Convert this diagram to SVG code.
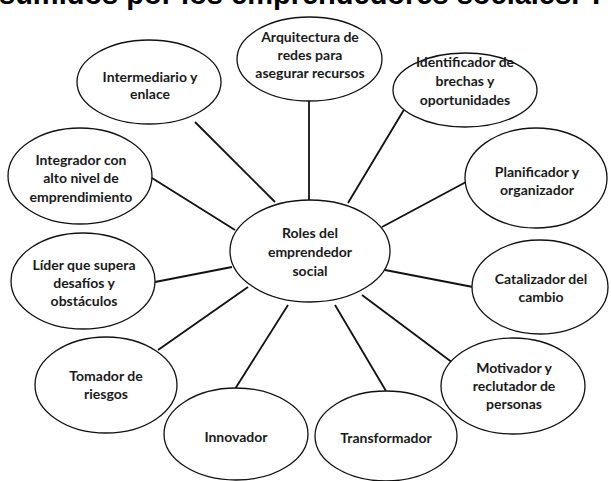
<svg xmlns="http://www.w3.org/2000/svg" width="611" height="481" viewBox="0 0 611 481">
<style>
.node ellipse{fill:#fff;stroke:#111;stroke-width:1.3}
.node text{font-family:Lato,"Open Sans","Liberation Sans",sans-serif;font-weight:700;font-size:14px;text-anchor:middle;fill:#1a1a1a}
#connectors line{stroke:#111;stroke-width:1.8}
.title{font-family:"Liberation Sans",Arial,sans-serif;font-weight:700;font-size:29px;fill:#000}
</style>
<rect width="611" height="481" fill="#fff"/>
<text class="title" x="-1" y="4">sumidos por los emprendedores sociales. T</text>
<g id="connectors">
<line x1="309" y1="100" x2="309" y2="201"/>
<line x1="408" y1="103" x2="348" y2="203"/>
<line x1="466" y1="182" x2="382" y2="227"/>
<line x1="385" y1="270" x2="473" y2="287"/>
<line x1="362" y1="295" x2="453" y2="363"/>
<line x1="335" y1="305" x2="386" y2="391"/>
<line x1="288" y1="305" x2="235" y2="389"/>
<line x1="248" y1="287" x2="158" y2="350"/>
<line x1="155" y1="282" x2="232" y2="267"/>
<line x1="152" y1="178" x2="235" y2="230"/>
<line x1="195" y1="122" x2="275" y2="202"/>
</g>
<g id="center" class="node"><ellipse cx="310" cy="251" rx="80" ry="51"/><text x="310" y="238">Roles del</text><text x="310" y="257">emprendedor</text><text x="310" y="276">social</text></g>
<g id="arquitectura" class="node"><ellipse cx="309.5" cy="59" rx="72.5" ry="42"/><text x="310" y="42">Arquitectura de</text><text x="310" y="60">redes para</text><text x="310" y="78">asegurar recursos</text></g>
<g id="identificador" class="node"><ellipse cx="465" cy="90" rx="72" ry="37"/><text x="465" y="67">Identificador de</text><text x="465" y="86">brechas y</text><text x="465" y="105">oportunidades</text></g>
<g id="planificador" class="node"><ellipse cx="536" cy="178" rx="71" ry="50"/><text x="537" y="177">Planificador y</text><text x="537" y="195">organizador</text></g>
<g id="catalizador" class="node"><ellipse cx="540" cy="287" rx="68" ry="47"/><text x="541" y="284">Catalizador del</text><text x="541" y="302">cambio</text></g>
<g id="motivador" class="node"><ellipse cx="513" cy="386" rx="72" ry="48"/><text x="514" y="373">Motivador y</text><text x="514" y="391">reclutador de</text><text x="514" y="409">personas</text></g>
<g id="transformador" class="node"><ellipse cx="386" cy="436" rx="71" ry="45"/><text x="386" y="443">Transformador</text></g>
<g id="innovador" class="node"><ellipse cx="236" cy="434" rx="72" ry="46"/><text x="236" y="442">Innovador</text></g>
<g id="tomador" class="node"><ellipse cx="106" cy="385" rx="71" ry="48"/><text x="106" y="381">Tomador de</text><text x="106" y="399">riesgos</text></g>
<g id="lider" class="node"><ellipse cx="83" cy="281" rx="72" ry="48"/><text x="84" y="270">Líder que supera</text><text x="84" y="288">desafíos y</text><text x="84" y="306">obstáculos</text></g>
<g id="integrador" class="node"><ellipse cx="80" cy="176" rx="72" ry="48"/><text x="81" y="165">Integrador con</text><text x="81" y="183">alto nivel de</text><text x="81" y="202">emprendimiento</text></g>
<g id="intermediario" class="node"><ellipse cx="149" cy="82" rx="72" ry="42"/><text x="150" y="82">Intermediario y</text><text x="150" y="99">enlace</text></g>
</svg>
